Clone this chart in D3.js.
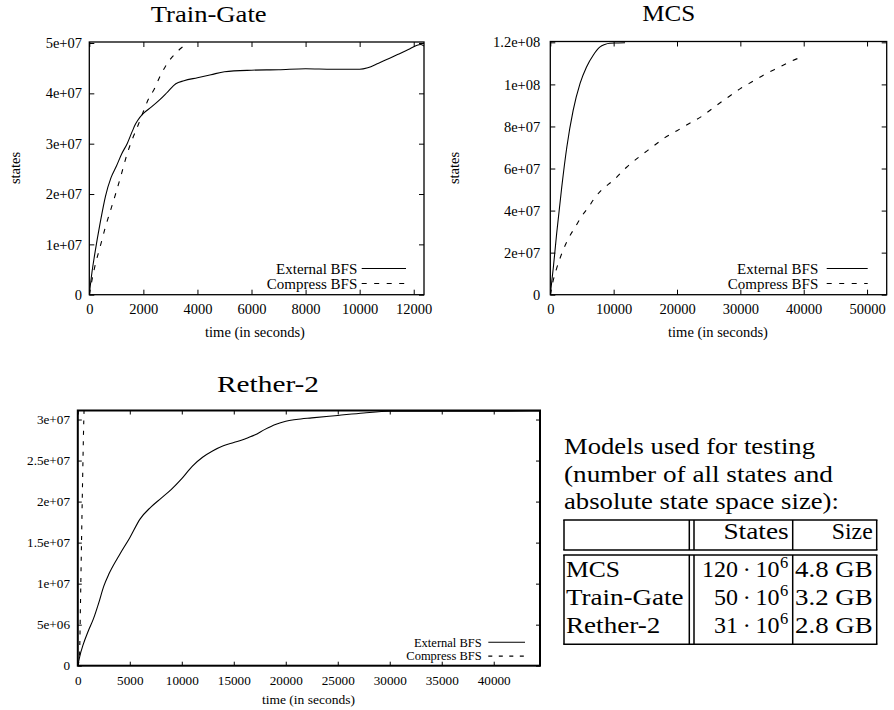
<!DOCTYPE html>
<html><head><meta charset="utf-8">
<script src="https://cdn.jsdelivr.net/npm/d3@7"></script>
<style>
body{margin:0;background:#fff} svg{display:block}
</style>
</head><body><svg id="c" width="894" height="710"></svg>
<script>
// ---------------- data ----------------
const trainGateExternal = [[0,0],[100,0.45e7],[200,0.8e7],[400,1.42e7],[600,1.96e7],[800,2.32e7],[1000,2.55e7],[1200,2.8e7],[1400,3.0e7],[1600,3.26e7],[1700,3.38e7],[1800,3.47e7],[2000,3.6e7],[2300,3.73e7],[2600,3.87e7],[2900,4.03e7],[3200,4.19e7],[3500,4.25e7],[4000,4.31e7],[4500,4.37e7],[5000,4.43e7],[6000,4.46e7],[7000,4.47e7],[8000,4.49e7],[9000,4.48e7],[10000,4.48e7],[10300,4.51e7],[10700,4.6e7],[11000,4.67e7],[11400,4.77e7],[11800,4.87e7],[12100,4.95e7],[12250,4.97e7],[12380,4.94e7]];
const trainGateCompress = [[0,0],[50,0.15e7],[200,0.55e7],[400,0.95e7],[600,1.35e7],[800,1.7e7],[1000,2.05e7],[1200,2.42e7],[1400,2.8e7],[1600,3.1e7],[1800,3.36e7],[2000,3.64e7],[2200,3.9e7],[2400,4.08e7],[2600,4.32e7],[2800,4.52e7],[3000,4.68e7],[3200,4.8e7],[3400,4.9e7],[3600,4.98e7]];
const mcsExternal = [[0,0],[500,1.35e7],[1000,2.9e7],[1800,5.1e7],[2600,7.0e7],[3600,8.75e7],[4700,1.005e8],[5700,1.082e8],[6800,1.14e8],[7800,1.177e8],[8600,1.19e8],[9400,1.196e8],[10500,1.197e8],[11800,1.198e8]];
const mcsCompress = [[0,0],[400,0.6e7],[1000,1.25e7],[2000,2.1e7],[3000,2.75e7],[4000,3.25e7],[5000,3.75e7],[6000,4.15e7],[7000,4.6e7],[8000,4.95e7],[10000,5.45e7],[12000,6.05e7],[14000,6.55e7],[16000,7.0e7],[18000,7.45e7],[20000,7.8e7],[22000,8.15e7],[24000,8.5e7],[26000,8.95e7],[28000,9.38e7],[30000,9.8e7],[32000,1.015e8],[34000,1.05e8],[36000,1.08e8],[38000,1.11e8],[39200,1.125e8]];
const retherExternal = [[0,0],[200,0.12e7],[500,0.25e7],[1000,0.42e7],[1500,0.57e7],[2000,0.76e7],[2500,0.97e7],[3000,1.12e7],[4000,1.35e7],[5000,1.56e7],[6000,1.79e7],[7000,1.93e7],[8000,2.04e7],[9000,2.15e7],[10000,2.28e7],[11000,2.43e7],[12000,2.54e7],[13000,2.62e7],[14000,2.68e7],[15000,2.72e7],[16000,2.76e7],[17000,2.81e7],[18000,2.88e7],[19000,2.94e7],[20000,2.98e7],[21000,3.0e7],[22500,3.02e7],[25000,3.05e7],[27500,3.08e7],[30000,3.1e7],[35000,3.1e7],[40000,3.1e7],[44500,3.105e7]];
const retherCompress = [[0,0],[160,0.1e7],[250,0.7e7],[355,1.49e7],[460,2.25e7],[576,2.99e7],[600,3.11e7]];

const trainGateXTicks = [0,2000,4000,6000,8000,10000,12000];
const trainGateYTicks = [0,1e7,2e7,3e7,4e7,5e7];
const trainGateYLabels = ["0","1e+07","2e+07","3e+07","4e+07","5e+07"];
const mcsXTicks = [0,10000,20000,30000,40000,50000];
const mcsYTicks = [0,2e7,4e7,6e7,8e7,1e8,1.2e8];
const mcsYLabels = ["0","2e+07","4e+07","6e+07","8e+07","1e+08","1.2e+08"];
const retherXTicks = [0,5000,10000,15000,20000,25000,30000,35000,40000];
const retherYTicks = [0,5e6,1e7,1.5e7,2e7,2.5e7,3e7];
const retherYLabels = ["0","5e+06","1e+07","1.5e+07","2e+07","2.5e+07","3e+07"];
const seriesNames = ["External BFS","Compress BFS"];

const noteLines = ["Models used for testing","(number of all states and","absolute state space size):"];
const tableHeader = ["","States","Size"];
const tableModels = ["MCS","Train-Gate","Rether-2"];
const tableStatesMantissa = ["120","50","31"];
const tableSizes = ["4.8 GB","3.2 GB","2.8 GB"];

// ---------------- drawing ----------------
const svg = d3.select('#c');
const FONT = '"Liberation Serif"';
const BIG_FS = 28;          // font size used for large text
const SY = 24 / BIG_FS;     // vertical scale so it looks like a 24px font

function txt(g, str, x, y, anchor, size) {
  return g.append('text').attr('x', x).attr('y', y).attr('text-anchor', anchor)
    .style('font-family', FONT).style('font-size', size + 'px').attr('fill', '#000').text(str);
}
// wider "Computer Modern"-like text: serif glyphs scaled to the measured width
function cmText(g, str, x, y, anchor, width) {
  const t = txt(g, str, 0, 0, anchor, BIG_FS);
  let sx = SY;
  if (width) {
    const w = t.node().getComputedTextLength();
    if (w > 0) sx = width / w;
  }
  t.attr('transform', `translate(${x},${y}) scale(${sx},${SY})`);
  return t;
}

function panel(c) {
  const g = svg.append('g');
  const x = d3.scaleLinear().domain([0, c.xmax]).range([c.left, c.right]);
  const y = d3.scaleLinear().domain([0, c.ymax]).range([c.bottom, c.top]);
  const styleAxis = sel => {
    sel.select('.domain').remove();
    sel.attr('font-family', null).attr('font-size', null);
    sel.selectAll('line').attr('stroke', '#000').attr('stroke-width', c.tickW);
    sel.selectAll('text').style('font-family', FONT).style('font-size', c.fs + 'px').attr('fill', '#000');
  };
  g.append('g').attr('transform', `translate(0,${c.bottom})`)
    .call(d3.axisBottom(x).tickValues(c.xticks).tickFormat(d3.format('d')).tickSize(-c.tick).tickPadding(c.xpad)).call(styleAxis);
  g.append('g').attr('transform', `translate(0,${c.top})`)
    .call(d3.axisTop(x).tickValues(c.xticks).tickFormat('').tickSize(-c.tick)).call(styleAxis);
  g.append('g').attr('transform', `translate(${c.left},0)`)
    .call(d3.axisLeft(y).tickValues(c.yticks).tickFormat((d, i) => c.ylabels[i]).tickSize(-c.tick).tickPadding(c.ypad)).call(styleAxis);
  g.append('g').attr('transform', `translate(${c.right},0)`)
    .call(d3.axisRight(y).tickValues(c.yticks).tickFormat('').tickSize(-c.tick)).call(styleAxis);

  const clipId = 'clip' + c.id;
  svg.append('clipPath').attr('id', clipId).append('rect')
    .attr('x', c.left).attr('y', c.top - 1).attr('width', c.right - c.left).attr('height', c.bottom - c.top + 1);
  const line = d3.line().x(d => x(d[0])).y(d => y(d[1])).curve(d3.curveMonotoneX);
  const lc = g.append('g').attr('clip-path', `url(#${clipId})`);
  lc.append('path').datum(c.ext).attr('d', line).attr('fill', 'none').attr('stroke', '#000').attr('stroke-width', c.lineW);
  lc.append('path').datum(c.comp).attr('d', line).attr('fill', 'none').attr('stroke', '#000').attr('stroke-width', c.lineW).attr('stroke-dasharray', c.dash);

  g.append('rect').attr('x', c.left).attr('y', c.top).attr('width', c.right - c.left).attr('height', c.bottom - c.top)
    .attr('fill', 'none').attr('stroke', '#000').attr('stroke-width', c.frameW);

  // legend
  seriesNames.forEach((n, i) => {
    const by = c.legY[i];
    txt(g, n, c.legTextX, by, 'end', c.legFs);
    g.append('line').attr('x1', c.legX1).attr('x2', c.legX2).attr('y1', by - c.legOff).attr('y2', by - c.legOff)
      .attr('stroke', '#000').attr('stroke-width', c.lineW).attr('stroke-dasharray', i ? c.dash : null);
  });

  // axis labels
  txt(g, 'time (in seconds)', c.xlabX, c.xlabY, 'middle', c.labFs);
  if (c.ylabX) {
    txt(g, 'states', 0, 0, 'middle', c.labFs).attr('transform', `translate(${c.ylabX},${c.ylabY}) rotate(-90)`);
  }
  cmText(g, c.title, c.titleX, c.titleY, 'middle', c.titleW);
}

panel({id: 'tg', title: 'Train-Gate', titleX: 208.7, titleY: 22, titleW: 116,
  left: 89.3, right: 424, top: 42, bottom: 294.7, xmax: 12380, ymax: 5.02e7,
  xticks: trainGateXTicks, yticks: trainGateYTicks, ylabels: trainGateYLabels,
  fs: 14.5, legFs: 15, labFs: 14.5, tick: 5, tickW: 1, xpad: 9.5, ypad: 7.3, frameW: 1.3, lineW: 1.1, dash: '5,7.5',
  ext: trainGateExternal, comp: trainGateCompress,
  legY: [273.5, 288.5], legOff: 5, legTextX: 357.3, legX1: 361.7, legX2: 406,
  xlabX: 255, xlabY: 337, ylabX: 19.5, ylabY: 168});

panel({id: 'mcs', title: 'MCS', titleX: 668.7, titleY: 21, titleW: 53,
  left: 550.3, right: 886.7, top: 41.5, bottom: 294.7, xmax: 53100, ymax: 1.204e8,
  xticks: mcsXTicks, yticks: mcsYTicks, ylabels: mcsYLabels,
  fs: 14.5, legFs: 15, labFs: 14.5, tick: 5, tickW: 1, xpad: 9.5, ypad: 10, frameW: 1.3, lineW: 1.1, dash: '5,7.5',
  ext: mcsExternal, comp: mcsCompress,
  legY: [273.5, 288.5], legOff: 5, legTextX: 818.3, legX1: 826.7, legX2: 867.7,
  xlabX: 718, xlabY: 337, ylabX: 458.5, ylabY: 168});

panel({id: 'r2', title: 'Rether-2', titleX: 268, titleY: 392, titleW: 102,
  left: 77.8, right: 540, top: 410.5, bottom: 665.7, xmax: 44450, ymax: 3.11e7,
  xticks: retherXTicks, yticks: retherYTicks, ylabels: retherYLabels,
  fs: 13.2, legFs: 12.5, labFs: 13.5, tick: 4, tickW: 1, xpad: 9.5, ypad: 7.8, frameW: 2, lineW: 1.1, dash: '4,6.5',
  ext: retherExternal, comp: retherCompress,
  legY: [646.5, 660.3], legOff: 4.2, legTextX: 481.7, legX1: 488.3, legX2: 525,
  xlabX: 308.5, xlabY: 704, ylabX: null});

// ---------------- table ----------------
const tg = svg.append('g');
const noteY = [454.3, 481.7, 509.3];
const noteW = [251, 269, 275];
noteLines.forEach((s, i) => cmText(tg, s, 564, noteY[i], 'start', noteW[i]));

const TL = 564, TR = 876.7, T1 = 520, T2 = 550, T3 = 555, T4 = 644.3;
const VD1 = 689.3, VD2 = 694, VS = 792.7;
const rule = (x1, y1, x2, y2) => tg.append('line').attr('x1', x1).attr('y1', y1).attr('x2', x2).attr('y2', y2)
  .attr('stroke', '#000').attr('stroke-width', 1.5);
[T1, T2, T3, T4].forEach(yy => rule(TL - 0.75, yy, TR + 0.75, yy));
[[T1, T2], [T3, T4]].forEach(([a, b]) => {
  [TL, VD1, VD2, VS, TR].forEach(xx => rule(xx, a, xx, b));
});

cmText(tg, tableHeader[1], 788.7, 539.3, 'end', 65.3);
cmText(tg, tableHeader[2], 872.7, 539.3, 'end', 41);
const rowY = [576.7, 605, 633.3];
const modelW = [54, 117.7, 94.3];
tableModels.forEach((m, i) => {
  cmText(tg, m, 566, rowY[i], 'start', modelW[i]);
  const t = txt(tg, '', 0, 0, 'end', BIG_FS).attr('transform', `translate(788.3,${rowY[i]}) scale(${SY})`);
  t.append('tspan').text(tableStatesMantissa[i] + '\u2009\u00B7\u200910');
  t.append('tspan').style('font-size', (16.5 / SY).toFixed(2) + 'px').attr('dy', (-9 / SY).toFixed(2)).attr('dx', 0.6).text('6');
  cmText(tg, tableSizes[i], 872.7, rowY[i], 'end', 77.7);
});
</script></body></html>
